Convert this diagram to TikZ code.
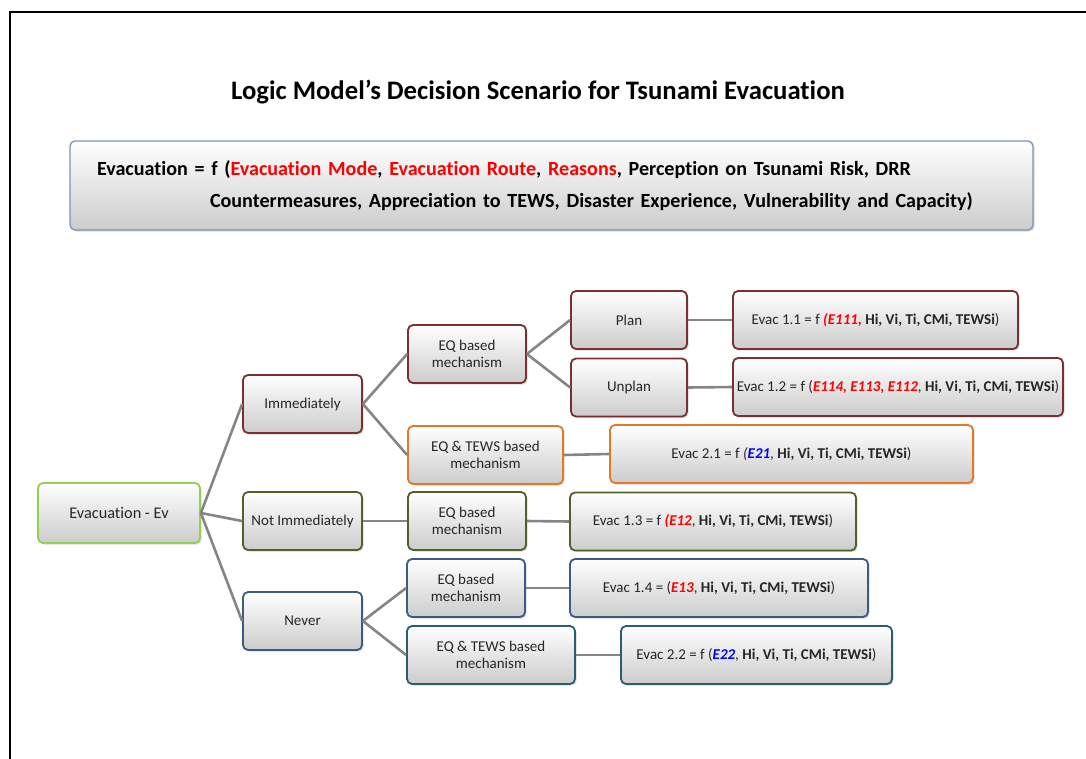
\documentclass[tikz,border=0pt]{standalone}
\usepackage{fontspec}
\setmainfont{Carlito}[Ligatures=NoCommon]
\usepackage{xcolor}
\usetikzlibrary{shadows}

\definecolor{maroon}{RGB}{122,48,48}
\definecolor{amber}{RGB}{228,120,40}
\definecolor{olive}{RGB}{79,98,40}
\definecolor{lime}{RGB}{146,208,80}
\definecolor{navy}{RGB}{60,90,135}
\definecolor{teal}{RGB}{40,95,112}
\definecolor{steel}{RGB}{125,148,182}

\newcommand{\redE}[1]{\textcolor{red}{\textbf{\textit{#1}}}}
\newcommand{\blueE}[1]{\textcolor{blue}{\textbf{\textit{#1}}}}
\newcommand{\factors}{\textbf{Hi, Vi, Ti, CMi, TEWSi}}

\begin{document}
\begin{tikzpicture}[x=1pt,y=-1pt]
  \tikzset{box/.style = {shape=rectangle,rounded corners=5pt,draw=#1,line width=1.8pt,
      top color=white,bottom color=black!20,drop shadow={shadow xshift=1.5pt,shadow yshift=-1.5pt,opacity=0.3},
      minimum height=58pt,inner sep=2pt,align=center,font=\fontsize{15}{17}\selectfont,text=black!85}}
  \tikzset{branch/.style = {draw=black!48,line width=2.6pt}}

  \useasboundingbox (0,0) rectangle (1086,758);
  \draw[line width=1.8pt] (10,760) -- (10,12) -- (1088,12);

  \node[font=\fontsize{26.7}{30}\selectfont\bfseries] (title) at (538,92)
    {Logic Model’s Decision Scenario for Tsunami Evacuation};

  \node[box=steel,line width=1.3pt,minimum width=963pt,minimum height=89pt,
        text width=909pt,inner xsep=27pt,
        font=\fontsize{20.1}{32}\selectfont\bfseries,align=left,text=black] (formula) at (551.5,185.5)
    {Evacuation = f (\textcolor{red}{Evacuation Mode}, \textcolor{red}{Evacuation Route}, \textcolor{red}{Reasons}, Perception on Tsunami Risk, DRR\\
     \hspace*{113pt}Countermeasures, Appreciation to TEWS, Disaster Experience, Vulnerability and Capacity)};

  % first level
  \node[box=lime,minimum width=162pt,minimum height=60pt,font=\fontsize{16.3}{18}\selectfont] (ev) at (119,513) {Evacuation - Ev};
  \node[box=maroon,minimum width=119pt] (imm) at (302.5,404) {Immediately};
  \node[box=olive,minimum width=119pt] (notimm) at (302.5,521) {Not Immediately};
  \node[box=navy,minimum width=119pt] (never) at (302.5,621) {Never};

  % mechanisms
  \node[box=maroon,minimum width=118pt] (eqA) at (467,354) {EQ based\\mechanism};
  \node[box=amber,minimum width=155pt] (twA) at (485.5,455) {EQ \& TEWS based\\mechanism};
  \node[box=olive,minimum width=118pt] (eqB) at (467,521) {EQ based\\mechanism};
  \node[box=navy,minimum width=118pt] (eqC) at (466,588) {EQ based\\mechanism};
  \node[box=teal,minimum width=168pt] (twC) at (491,655) {EQ \& TEWS based\\mechanism};

  \node[box=maroon,minimum width=116pt] (plan) at (629,320) {Plan};
  \node[box=maroon,minimum width=116pt] (unplan) at (629,387.5) {Unplan};

  % outcomes
  \node[box=maroon,minimum width=285pt] (e11) at (875.5,320)
    {Evac 1.1 = f \redE{(E111,} \factors)};
  \node[box=maroon,minimum width=330pt] (e12) at (898,387)
    {Evac 1.2 = f (\redE{E114, E113, E112}, \factors)};
  \node[box=amber,minimum width=363pt] (e21) at (791.5,454)
    {Evac 2.1 = f \textit{(}\blueE{E21}, \factors)};
  \node[box=olive,minimum width=286pt] (e13) at (713,521.5)
    {Evac 1.3 = f \redE{(E12}, \factors)};
  \node[box=navy,minimum width=298pt] (e14) at (719,588)
    {Evac 1.4 = (\redE{E13}, \factors)};
  \node[box=teal,minimum width=271pt] (e22) at (756.5,655)
    {Evac 2.2 = f (\blueE{E22}, \factors)};

  \foreach \from/\to in {ev/imm, ev/notimm, ev/never, imm/eqA, imm/twA, eqA/plan, eqA/unplan,
      plan/e11, unplan/e12, twA/e21, notimm/eqB, eqB/e13, never/eqC, never/twC, eqC/e14, twC/e22}
    \path[branch] (\from.east) -- (\to.west);
\end{tikzpicture}
\end{document}
